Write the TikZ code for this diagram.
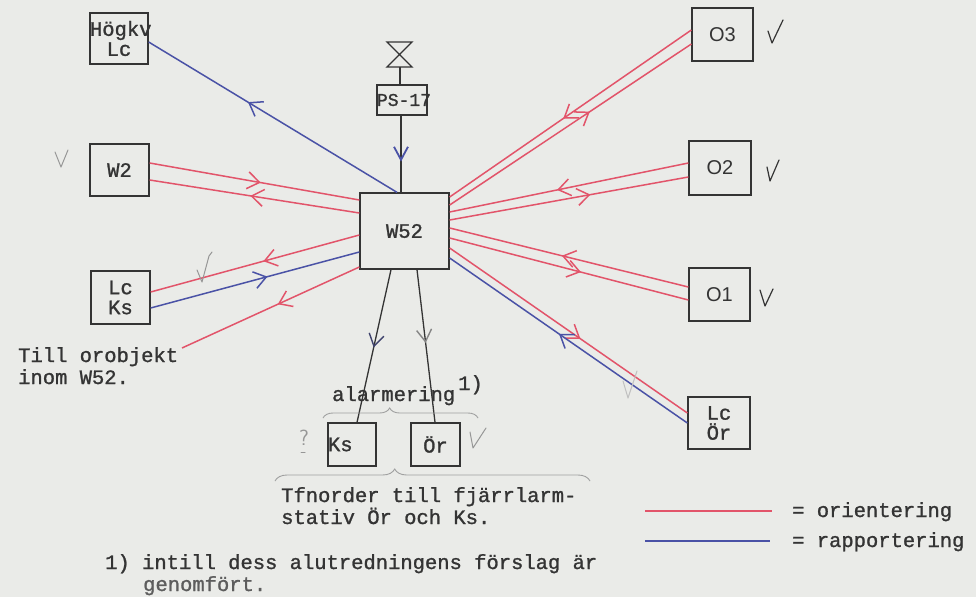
\documentclass[tikz,border=0pt]{standalone}
\usepackage{fontspec}
\setmonofont[FakeBold=1.2]{Liberation Mono}
\newfontfamily\osans{Liberation Sans}
\usetikzlibrary{arrows.meta,decorations.markings,decorations.pathreplacing,calc}
\definecolor{paper}{RGB}{234,235,232}
\definecolor{ored}{RGB}{226,84,106}
\definecolor{rblue}{RGB}{74,82,166}
\definecolor{ink}{RGB}{52,52,52}
\definecolor{pencil}{RGB}{150,150,150}
\begin{document}
\begin{tikzpicture}[x=1pt,y=-1pt,
  tt/.style={font=\ttfamily\fontsize{20.5}{23}\selectfont, text=ink, inner sep=0pt},
  box/.style={tt, draw=ink, line width=1.3pt, align=center},
  obox/.style={draw=ink, line width=1.3pt, inner sep=0pt, font=\osans\fontsize{20}{22}\selectfont, text=ink},
  rline/.style={draw=ored, line width=1.5pt},
  bline/.style={draw=rblue, line width=1.5pt},
  kline/.style={draw=ink, line width=1.3pt},
  arr/.style={postaction={decorate}, decoration={markings, mark=at position #1 with {\arrow[line width=1.5pt]{Straight Barb[length=12pt,width=17pt]}}}},
  pen/.style={draw=pencil, line width=1pt, line cap=round, line join=round},
  tick/.style={draw=ink, line width=1.2pt, line cap=round, line join=round},
  bracestyle/.style={draw=pencil!90, line width=0.9pt, decorate}
]
\fill[paper] (0,0) rectangle (976,597);
\useasboundingbox (0,0) rectangle (976,597);

% boxes
\node[box, minimum width=58pt, minimum height=51pt, text width=58pt] (hk) at (119,38.5) {Högkv\\[-3pt]Lc};
\node[box, minimum width=59pt, minimum height=52pt] (w2) at (119.5,170) {W2};
\node[box, minimum width=59pt, minimum height=53pt] (lcks) at (120.5,297.5) {Lc\\[-3pt]Ks};
\node[box, minimum width=89pt, minimum height=76pt] (w52) at (404.5,231) {W52};
\node[box, minimum width=50pt, minimum height=30pt, text width=50pt, font=\ttfamily\fontsize{18}{20}\selectfont] (ps) at (402,100) {PS-17};
\node[obox, minimum width=61pt, minimum height=53pt] (o3) at (722.5,34.5) {O3};
\node[obox, minimum width=62pt, minimum height=54pt] (o2) at (720,168) {O2};
\node[obox, minimum width=61pt, minimum height=53pt] (o1) at (719.5,294.5) {O1};
\node[box, minimum width=62pt, minimum height=52pt] (lcor) at (719,423) {Lc\\[-3pt]Ör};
\node[box, minimum width=48pt, minimum height=43pt, text width=48pt, align=left] (ks) at (352,444.5) {Ks};
\node[box, minimum width=49pt, minimum height=43pt] (orb) at (435.5,444.5) {Ör};

% valve
\draw[kline, line join=miter] (387,42) -- (412,42) -- (387,67) -- (412,67) -- cycle;
\coordinate (vb) at (400,67);
\draw[kline] (vb) -- ($(ps.north)+(-2,0)$);
\draw[kline, postaction={decorate}, decoration={markings, mark=at position 0.6 with {\arrow[rblue, line width=1.8pt]{Straight Barb[length=13pt,width=14pt]}}}]
  ($(ps.south)+(-1,0)$) -- ($(w52.north)+(-3.5,0)$);

% left side
\draw[bline, arr=0.6] ($(w52.north)+(-7.5,0)$) -- ($(hk.east)+(0,3.5)$);
\draw[rline, arr=0.53] ($(w2.east)+(0,-7)$) -- ($(w52.west)+(0,-31)$);
\draw[rline, arr=0.52] ($(w52.west)+(0,-18)$) -- ($(w2.east)+(0,10)$);
\draw[rline, arr=0.46] ($(w52.west)+(0,4)$) -- ($(lcks.east)+(0,-5.5)$);
\draw[bline, arr=0.56] ($(lcks.east)+(0,10.5)$) -- ($(w52.west)+(0,21)$);
\coordinate (orob) at (182,348);
\draw[rline, arr=0.46] ($(w52.west)+(0,36)$) -- (orob);

% right side
\draw[rline, arr=0.53] ($(o3.west)+(0,-4.5)$) -- ($(w52.east)+(0,-34)$);
\draw[rline, arr=0.58] ($(w52.east)+(0,-26)$) -- ($(o3.west)+(0,9.5)$);
\draw[rline, arr=0.55] ($(o2.west)+(0,-5)$) -- ($(w52.east)+(0,-19)$);
\draw[rline, arr=0.59] ($(w52.east)+(0,-11)$) -- ($(o2.west)+(0,9)$);
\draw[rline, arr=0.53] ($(o1.west)+(0,-7.5)$) -- ($(w52.east)+(0,-3)$);
\draw[rline, arr=0.55] ($(w52.east)+(0,7)$) -- ($(o1.west)+(0,5.5)$);
\draw[rline, arr=0.55] ($(w52.east)+(0,17)$) -- ($(lcor.west)+(0,-10)$);
\draw[bline, arr=0.54] (lcor.west) -- ($(w52.east)+(0,27)$);

% bottom
\draw[kline, postaction={decorate}, decoration={markings, mark=at position 0.51 with {\arrow[rblue!50!ink, line width=1.4pt]{Straight Barb[length=12pt,width=15pt]}}}]
  ($(w52.south)+(-13.5,0)$) -- ($(ks.north)+(5,0)$);
\draw[kline, postaction={decorate}, decoration={markings, mark=at position 0.48 with {\arrow[ink!60, line width=1.4pt]{Straight Barb[length=12pt,width=15pt]}}}]
  ($(w52.south)+(12.5,0)$) -- ($(orb.north)+(-0.5,0)$);

% texts
\node[tt, anchor=base west] (till) at (18,362) {Till orobjekt};
\node[tt, anchor=base west] (inom) at (18,384) {inom W52.};
\node[tt, anchor=base west] (alarm) at (332,401) {alarmering};
\node[tt, anchor=base west] (fn1) at (458,390) {1)};
\node[tt, anchor=base west] (tfn1) at (281,502) {Tfnorder till fjärrlarm-};
\node[tt, anchor=base west] (tfn2) at (281,524) {stativ Ör och Ks.};
\node[tt, anchor=base west] (foot1) at (105,569) {1) intill dess alutredningens förslag är};
\node[tt, anchor=base west, text=ink!80] (foot2) at (143,591) {genomfört.};

% braces
\draw[bracestyle, decoration={brace, amplitude=10pt, aspect=0.43}] (323,418) -- (478,418);
\draw[bracestyle, decoration={brace, amplitude=12pt, aspect=0.38}] (275,481) -- (590,481);

% legend
\coordinate (lr1) at (645,511); \coordinate (lr2) at (772,511);
\coordinate (lb1) at (645,541); \coordinate (lb2) at (770,541);
\draw[rline] (lr1) -- (lr2);
\draw[bline] (lb1) -- (lb2);
\node[tt, anchor=base west] (leg1) at (792,517) {= orientering};
\node[tt, anchor=base west] (leg2) at (792,547) {= rapportering};

% check marks
\draw[tick] (768,31) -- (772,43) -- (783,20);
\draw[tick] (767,167) -- (770,181) -- (779,160);
\draw[tick] (760,290) -- (765,306) -- (773,289);
\draw[pen] (55,152) -- (61,167) -- (68,150);
\draw[pen] (197,270) -- (202,282) -- (209,256) -- (212,252);
\draw[pen] (470,432) -- (473,448) -- (486,428);
\draw[pen, draw=pencil!60] (623,381) -- (628,398) -- (637,371);
\node[font=\sffamily\fontsize{22}{24}\selectfont, text=pencil, inner sep=0pt] (qm) at (304,438) {?};
\draw[pen] (301,452) -- (305,452);
\end{tikzpicture}
\end{document}
